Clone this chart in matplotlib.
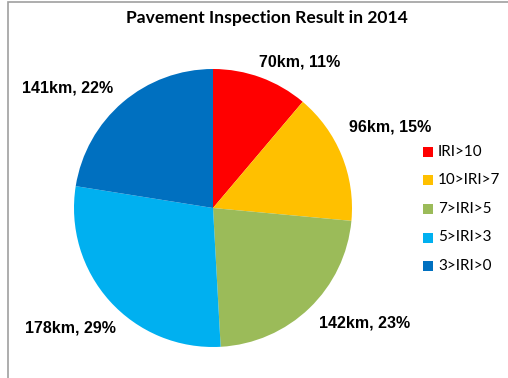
import matplotlib.pyplot as plt
from matplotlib.patches import Rectangle

# pavement condition by IRI range
categories = ['IRI>10', '10>IRI>7', '7>IRI>5', '5>IRI>3', '3>IRI>0']
lengths_km = [70, 96, 142, 178, 141]
percents = [11, 15, 23, 29, 22]
colors = ['#FF0000', '#FFC000', '#9BBB59', '#00B0F0', '#0070C0']

W, H = 508, 378
fig = plt.figure(figsize=(W / 100, H / 100), dpi=100)

# chart area border (top and left edges visible)
fig.patches.append(Rectangle((8 / W, -0.1), 1.2, 1 - 2 / H + 0.1,
                             transform=fig.transFigure, fill=False,
                             edgecolor='#A0A0A0', linewidth=1.2))

# pie axes: centre (213, 208), radius 139 px
cx, cy, r = 213, 208, 139
ax = fig.add_axes([(cx - r) / W, (H - cy - r) / H, 2 * r / W, 2 * r / H])
ax.pie(lengths_km, colors=colors, startangle=90, counterclock=False,
       radius=1.0, wedgeprops=dict(linewidth=0))
ax.set_xlim(-1, 1)
ax.set_ylim(-1, 1)
ax.set_aspect('equal')
ax.axis('off')

# data labels in pixel coordinates of the figure
label_pos = [(300, 62), (390, 127), (365, 323), (70, 328), (68, 88)]
for (x, y), km, pct in zip(label_pos, lengths_km, percents):
    fig.text(x / W, 1 - y / H, f'{km}km, {pct}%', ha='center', va='center',
             fontsize=11.5, fontweight='bold', family='Liberation Sans')

fig.text(267 / W, 1 - 18 / H, 'Pavement Inspection Result in 2014',
         ha='center', va='center', fontsize=12.6, fontweight='bold', family='Lato')

# legend drawn by hand: square marker + label per row
for i, (name, c) in enumerate(zip(categories, colors)):
    y = 152 + i * 28.5
    fig.patches.append(Rectangle((423 / W, 1 - (y + 5) / H), 10 / W, 10 / H,
                                 transform=fig.transFigure, facecolor=c,
                                 edgecolor='none'))
    fig.text(438 / W, 1 - y / H, name, ha='left', va='center',
             fontsize=11, family='Lato')

fig.savefig('out.png', dpi=100)
